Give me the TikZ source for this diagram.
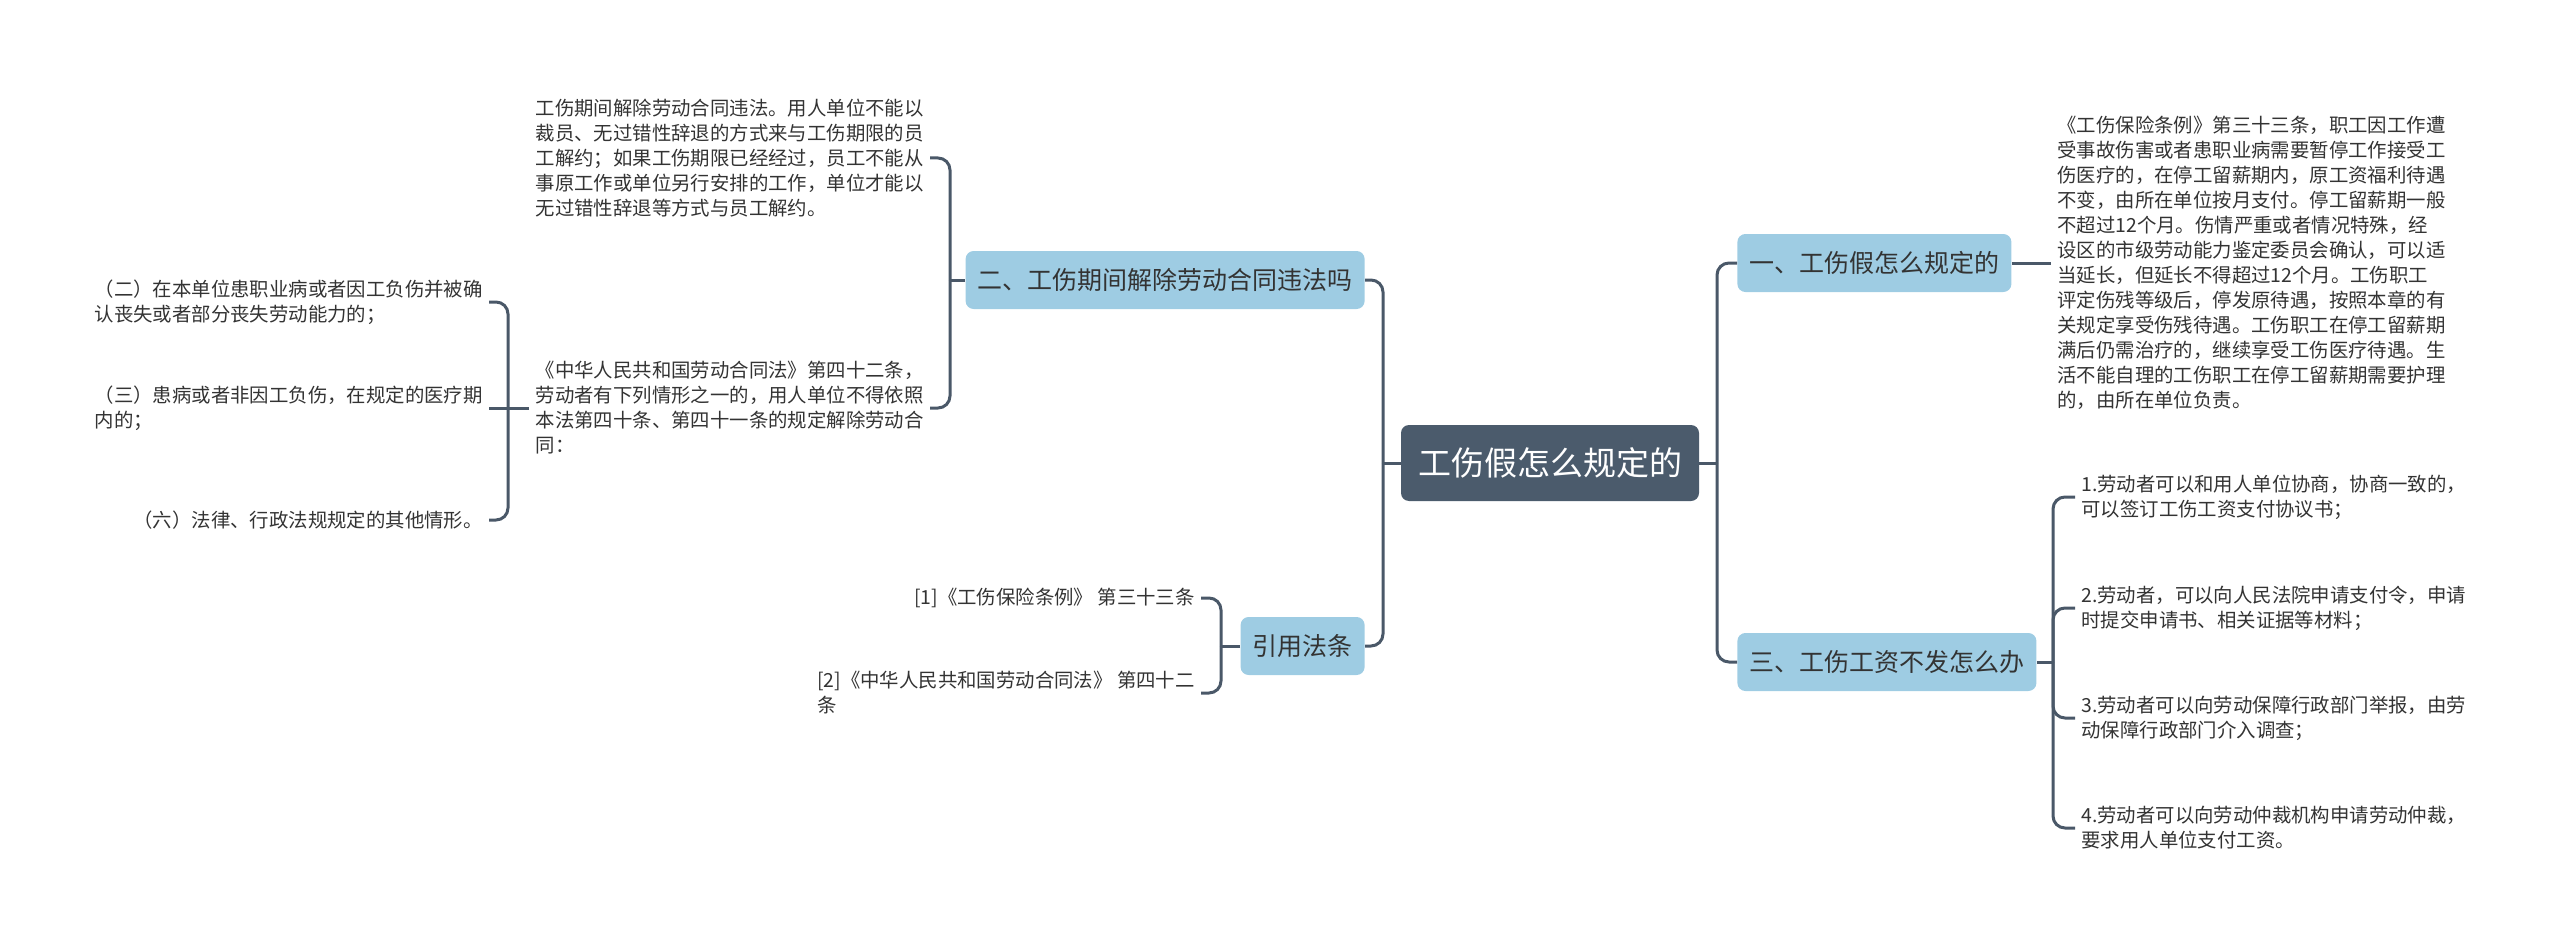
\documentclass[tikz,border=0pt]{standalone}
\usepackage{fontspec}
\setmainfont{Noto Sans CJK SC}
\definecolor{mapline}{HTML}{4A5868}
\definecolor{rootfill}{HTML}{4B5B6C}
\definecolor{topicfill}{HTML}{9ECCE3}
\definecolor{leafink}{HTML}{333333}
\tikzset{
  mroot/.style={fill=rootfill, rounded corners=4pt, text=white, align=center, minimum width=149pt, minimum height=38pt, inner sep=4pt, font=\fontsize{16.5}{20}\selectfont},
  mtopic/.style={fill=topicfill, rounded corners=4pt, text=leafink, align=center, minimum height=29pt, inner xsep=6pt, inner ysep=3pt, font=\fontsize{12.5}{15}\selectfont},
  mleaf/.style={text=leafink, align=left, inner sep=3pt, font=\fontsize{9.7}{12.5}\selectfont},
  mlink/.style={draw=mapline, line width=1.5pt, rounded corners=6pt}
}

\begin{document}
\begin{tikzpicture}[x=0.5pt,y=-0.5pt]
\useasboundingbox (0,0) rectangle (2560,947);

\node[mroot] (root) at (1550,463) {工伤假怎么规定的};
\node[mtopic, anchor=west] (b1) at (1737,263) {一、工伤假怎么规定的};
\node[mtopic, anchor=west] (b3) at (1737,662) {三、工伤工资不发怎么办};
\node[mtopic, anchor=east] (b2) at (1365,280) {二、工伤期间解除劳动合同违法吗};
\node[mtopic, anchor=east] (b4) at (1365,646) {引用法条};

\coordinate (jl) at (1383,463);
\coordinate (jr) at (1717,463);
\draw[mlink] (root.west) -- (jl);
\draw[mlink] (jl) |- (b2.east);
\draw[mlink] (jl) |- (b4.east);
\draw[mlink] (root.east) -- (jr);
\draw[mlink] (jr) |- (b1.west);
\draw[mlink] (jr) |- (b3.west);

\node[mleaf, anchor=west] (l1) at (2051,263) {《工伤保险条例》第三十三条，职工因工作遭\\受事故伤害或者患职业病需要暂停工作接受工\\伤医疗的，在停工留薪期内，原工资福利待遇\\不变，由所在单位按月支付。停工留薪期一般\\不超过12个月。伤情严重或者情况特殊，经\\设区的市级劳动能力鉴定委员会确认，可以适\\当延长，但延长不得超过12个月。工伤职工\\评定伤残等级后，停发原待遇，按照本章的有\\关规定享受伤残待遇。工伤职工在停工留薪期\\满后仍需治疗的，继续享受工伤医疗待遇。生\\活不能自理的工伤职工在停工留薪期需要护理\\的，由所在单位负责。};
\draw[mlink] (b1.east) -- (l1.west);

\coordinate (j3) at (2053,662);
\node[mleaf, anchor=west] (l31) at (2075,497) {1.劳动者可以和用人单位协商，协商一致的，\\可以签订工伤工资支付协议书；};
\node[mleaf, anchor=west] (l32) at (2075,608) {2.劳动者，可以向人民法院申请支付令，申请\\时提交申请书、相关证据等材料；};
\node[mleaf, anchor=west] (l33) at (2075,718) {3.劳动者可以向劳动保障行政部门举报，由劳\\动保障行政部门介入调查；};
\node[mleaf, anchor=west] (l34) at (2075,828) {4.劳动者可以向劳动仲裁机构申请劳动仲裁，\\要求用人单位支付工资。};
\draw[mlink] (b3.east) -- (j3);
\draw[mlink] (j3) |- (l31.west);
\draw[mlink] (j3) |- (l32.west);
\draw[mlink] (j3) |- (l33.west);
\draw[mlink] (j3) |- (l34.west);

\coordinate (j2) at (950,280);
\node[mleaf, anchor=east] (l21) at (930,158) {工伤期间解除劳动合同违法。用人单位不能以\\裁员、无过错性辞退的方式来与工伤期限的员\\工解约；如果工伤期限已经经过，员工不能从\\事原工作或单位另行安排的工作，单位才能以\\无过错性辞退等方式与员工解约。};
\node[mleaf, anchor=east] (l22) at (930,408) {《中华人民共和国劳动合同法》第四十二条，\\劳动者有下列情形之一的，用人单位不得依照\\本法第四十条、第四十一条的规定解除劳动合\\同：};
\draw[mlink] (b2.west) -- (j2);
\draw[mlink] (j2) |- (l21.east);
\draw[mlink] (j2) |- (l22.east);

\coordinate (j22) at (508,408);
\node[mleaf, anchor=east] (g1) at (489,302) {（二）在本单位患职业病或者因工负伤并被确\\认丧失或者部分丧失劳动能力的；};
\node[mleaf, anchor=east] (g2) at (489,408) {（三）患病或者非因工负伤，在规定的医疗期\\内的；};
\node[mleaf, anchor=east] (g3) at (489,520) {（六）法律、行政法规规定的其他情形。};
\draw[mlink] (l22.west) -- (j22);
\draw[mlink] (j22) |- (g1.east);
\draw[mlink] (j22) -- (g2.east);
\draw[mlink] (j22) |- (g3.east);

\coordinate (j4) at (1221,646);
\node[mleaf, anchor=east] (l41) at (1201,598) {[1]《工伤保险条例》 第三十三条};
\node[mleaf, anchor=east] (l42) at (1201,693) {[2]《中华人民共和国劳动合同法》 第四十二\\条};
\draw[mlink] (b4.west) -- (j4);
\draw[mlink] (j4) |- (l41.east);
\draw[mlink] (j4) |- (l42.east);
\end{tikzpicture}
\end{document}
